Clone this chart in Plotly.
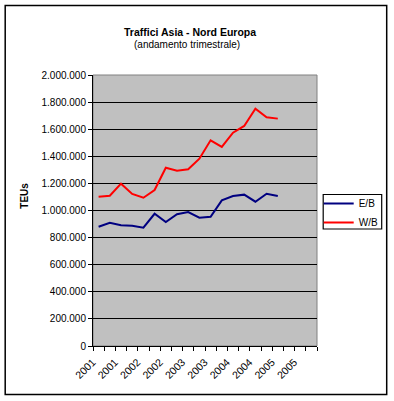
import plotly.graph_objects as go

categories = ["2001", "2001", "2001", "2001", "2002", "2002", "2002", "2002",
              "2003", "2003", "2003", "2003", "2004", "2004", "2004", "2004",
              "2005", "2005", "2005", "2005"]
eb_values = [880000, 910000, 891000, 888000, 873000, 976000, 915000, 972000, 989000,
             947000, 954000, 1075000, 1107000, 1117000, 1065000, 1124000, 1107000]
wb_values = [1102000, 1109000, 1198000, 1122000, 1094000, 1151000, 1316000, 1294000,
             1304000, 1382000, 1518000, 1469000, 1574000, 1624000, 1751000, 1688000, 1678000]
y_ticks = [0, 200000, 400000, 600000, 800000, 1000000, 1200000, 1400000, 1600000,
           1800000, 2000000]

FONT = "Liberation Sans, Arial, sans-serif"
idx = list(range(len(categories)))

fig = go.Figure()
fig.add_trace(go.Scatter(x=idx[:len(eb_values)], y=eb_values, mode="lines", name="E/B",
                         line=dict(color="#000080", width=2)))
fig.add_trace(go.Scatter(x=idx[:len(wb_values)], y=wb_values, mode="lines", name="W/B",
                         line=dict(color="#FF0000", width=2)))

W0, W1 = 93.3, 317.3
H0, H1 = 75, 346
def px(x):
    return (x - W0) / (W1 - W0)
def py(y):
    return (H1 - y) / (H1 - H0)

fig.update_layout(
    width=394, height=401,
    margin=dict(l=W0, r=394 - W1, t=H0, b=401 - H1, pad=0, autoexpand=False),
    paper_bgcolor="white", plot_bgcolor="#C0C0C0",
    separators=",.",
    font=dict(family=FONT, size=10, color="black"),
    showlegend=True,
    legend=dict(x=px(319), y=py(189), xanchor="left", yanchor="top",
                borderwidth=0, bgcolor="rgba(0,0,0,0)",
                font=dict(size=10), itemwidth=30, tracegroupgap=0),
    xaxis=dict(range=[-0.5, len(categories) - 0.5], tickmode="array",
               tickvals=idx[::2], ticktext=categories[::2], tickangle=-45,
               ticks="", showgrid=False, zeroline=False, showline=True,
               linecolor="black", linewidth=1, ticklabelshift=-6, ticklabelstandoff=5,
               minor=dict(tickmode="linear", tick0=-0.5, dtick=1, ticks="outside",
                          ticklen=4, tickcolor="black", showgrid=False),
               tickfont=dict(size=10.5), fixedrange=True),
    yaxis=dict(range=[0, 2000000], tickmode="array", tickvals=y_ticks,
               tickformat=",d", ticks="outside", ticklen=4, tickcolor="black",
               showgrid=True, gridcolor="black", gridwidth=1, zeroline=False,
               showline=True, linecolor="black", linewidth=1,
               tickfont=dict(size=10), fixedrange=True),
    shapes=[
        dict(type="rect", xref="paper", yref="paper", x0=0, x1=1, y0=0, y1=1,
             line=dict(color="#808080", width=1), layer="below"),
        dict(type="rect", xref="paper", yref="paper", x0=px(5.5), x1=px(387),
             y0=py(5.5), y1=py(394.5), line=dict(color="black", width=1.5)),
        dict(type="rect", xref="paper", yref="paper", x0=px(323.5), x1=px(382),
             y0=py(194.5), y1=py(229), line=dict(color="black", width=1.2)),
    ],
    annotations=[
        dict(text="<b>Traffici Asia - Nord Europa</b>", xref="paper", yref="paper",
             x=px(190), y=py(24), showarrow=False, font=dict(size=10.5)),
        dict(text="(andamento trimestrale)", xref="paper", yref="paper",
             x=px(187), y=py(37), showarrow=False, font=dict(size=10)),
        dict(text="<b>TEUs</b>", xref="paper", yref="paper", x=px(24), y=py(196),
             xanchor="center", yanchor="middle",
             showarrow=False, textangle=-90, font=dict(size=10)),
    ],
)

fig.write_html("out.html", config={"displayModeBar": False},
               post_script="document.body.style.margin='0';document.body.style.overflow='hidden';")
